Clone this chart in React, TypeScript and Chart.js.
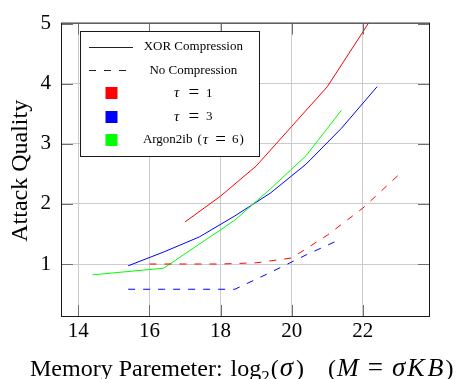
import { useEffect, useRef } from "react";
import { Chart, registerables } from "chart.js";

Chart.register(...registerables);

const FONT = '"Liberation Serif", "DejaVu Serif", "Times New Roman", serif';

// Axis ticks and ranges
const X_TICKS = [14, 16, 18, 20, 22];
const Y_TICKS = [1, 2, 3, 4, 5];
const X_MIN = 13.54;
const X_MAX = 23.86;
const Y_MIN = 0.135;
const Y_MAX = 5;

// XOR Compression (solid)
const RED_XOR_X = [17, 18, 19, 20, 21, 22, 23];
const RED_XOR_Y = [1.7, 2.13, 2.63, 3.29, 3.95, 4.86, 5.8];
const BLUE_XOR_X = [15.4, 16.4, 17.4, 18.4, 19.4, 20.4, 21.4, 22.4];
const BLUE_XOR_Y = [0.97, 1.2, 1.45, 1.8, 2.18, 2.66, 3.26, 3.95];
const GREEN_XOR_X = [14.4, 16.4, 18.4, 19.4, 20.4, 21.4];
const GREEN_XOR_Y = [0.82, 0.93, 1.73, 2.25, 2.8, 3.56];

// No Compression (dashed)
const RED_NC_X = [16, 17, 18, 19, 20, 21, 22, 23];
const RED_NC_Y = [1.0, 1.0, 1.0, 1.02, 1.1, 1.48, 1.93, 2.48];
const BLUE_NC_X = [15.4, 16.4, 17.4, 18.4, 19.4, 20.4, 21.4];
const BLUE_NC_Y = [0.58, 0.58, 0.58, 0.58, 0.86, 1.15, 1.42];

const RED = "#ff0000";
const BLUE = "#0000ff";
const GREEN = "#00ff00";
const DASH = [7, 8];

const pts = (xs: number[], ys: number[]) => xs.map((x, i) => ({ x, y: ys[i] }));

type Seg = { t: string; it?: boolean; size?: number; dy?: number; pad?: number };

function segsWidth(ctx: CanvasRenderingContext2D, segs: Seg[], size: number) {
  let w = 0;
  for (const s of segs) {
    ctx.font = `${s.it ? "italic " : ""}${s.size ?? size}px ${FONT}`;
    w += ctx.measureText(s.t).width + (s.pad ?? 0);
  }
  return w;
}

function drawSegsLeft(ctx: CanvasRenderingContext2D, segs: Seg[], x0: number, y: number, size: number) {
  let x = x0;
  ctx.textAlign = "left";
  for (const s of segs) {
    ctx.font = `${s.it ? "italic " : ""}${s.size ?? size}px ${FONT}`;
    ctx.fillText(s.t, x, y + (s.dy ?? 0));
    x += ctx.measureText(s.t).width + (s.pad ?? 0);
  }
}

function drawSegsCenter(ctx: CanvasRenderingContext2D, segs: Seg[], cx: number, y: number, size: number) {
  const w = segsWidth(ctx, segs, size);
  drawSegsLeft(ctx, segs, cx - w / 2, y, size);
}

const decor = {
  id: "decor",
  afterDraw(chart: any) {
    const { ctx, chartArea: a, scales } = chart;
    const xs = scales.x;
    const ys = scales.y;
    ctx.save();
    // inner tick marks
    ctx.strokeStyle = "#707070";
    ctx.lineWidth = 1;
    ctx.setLineDash([]);
    ctx.beginPath();
    for (const v of X_TICKS) {
      const px = Math.round(xs.getPixelForValue(v)) + 0.5;
      ctx.moveTo(px, a.bottom);
      ctx.lineTo(px, a.bottom - 11);
      ctx.moveTo(px, a.top);
      ctx.lineTo(px, a.top + 11);
    }
    for (const v of Y_TICKS) {
      const py = Math.round(ys.getPixelForValue(v)) + 0.5;
      ctx.moveTo(a.left, py);
      ctx.lineTo(a.left + 11, py);
      ctx.moveTo(a.right, py);
      ctx.lineTo(a.right - 11, py);
    }
    ctx.stroke();
    // frame
    ctx.strokeStyle = "#1a1a1a";
    ctx.strokeRect(a.left - 0.5, a.top - 0.5, a.right - a.left + 1, a.bottom - a.top + 1);

    // axis titles
    ctx.fillStyle = "#000";
    ctx.save();
    ctx.translate(21, (a.top + a.bottom) / 2 + 1);
    ctx.rotate(-Math.PI / 2);
    ctx.textAlign = "center";
    ctx.textBaseline = "middle";
    ctx.font = `24px ${FONT}`;
    ctx.fillText("Attack Quality", 0, 0);
    ctx.restore();

    ctx.textBaseline = "alphabetic";
    drawSegsLeft(
      ctx,
      [
        { t: "Memory Paremeter: ", pad: 2 },
        { t: "log" },
        { t: "2", size: 17, dy: 6, pad: 1 },
        { t: "(", pad: 1 },
        { t: "σ", it: true, size: 27, pad: 3 },
        { t: ")", pad: 24 },
        { t: "(", pad: 1 },
        { t: "M", it: true, size: 26, pad: 9 },
        { t: "=", size: 27, pad: 9 },
        { t: "σ", it: true, size: 27, pad: 2 },
        { t: "K", it: true, size: 26, pad: 3 },
        { t: "B", it: true, size: 26, pad: 2 },
        { t: ")" },
      ],
      30,
      376,
      24
    );

    // legend
    const L = { x: 80.5, y: 31.5, w: 179, h: 125 };
    ctx.fillStyle = "#fff";
    ctx.fillRect(L.x, L.y, L.w, L.h);
    ctx.strokeStyle = "#1a1a1a";
    ctx.lineWidth = 1;
    ctx.strokeRect(L.x, L.y, L.w, L.h);
    const rowY = (i: number) => L.y + 15.5 + i * 23.2;
    const textX = 193.3;
    // solid sample
    ctx.strokeStyle = "#222";
    ctx.beginPath();
    ctx.moveTo(89, Math.round(rowY(0)) + 0.5);
    ctx.lineTo(133, Math.round(rowY(0)) + 0.5);
    ctx.stroke();
    // dashed sample
    ctx.setLineDash(DASH);
    ctx.beginPath();
    ctx.moveTo(89, Math.round(rowY(1)) + 0.5);
    ctx.lineTo(130, Math.round(rowY(1)) + 0.5);
    ctx.stroke();
    ctx.setLineDash([]);
    // squares
    [RED, BLUE, GREEN].forEach((c, i) => {
      ctx.fillStyle = c;
      ctx.fillRect(105.5, Math.round(rowY(i + 2)) - 6, 12, 12);
    });
    ctx.fillStyle = "#000";
    ctx.textBaseline = "middle";
    const lf = 13;
    drawSegsCenter(ctx, [{ t: "XOR Compression" }], textX, rowY(0), lf);
    drawSegsCenter(ctx, [{ t: "No Compression" }], textX, rowY(1), lf);
    const eq: Seg = { t: "=", size: 19, pad: 7 };
    drawSegsCenter(ctx, [{ t: "τ", it: true, size: 15, pad: 9 }, eq, { t: "1" }], textX, rowY(2), lf);
    drawSegsCenter(ctx, [{ t: "τ", it: true, size: 15, pad: 9 }, eq, { t: "3" }], textX, rowY(3), lf);
    drawSegsCenter(
      ctx,
      [
        { t: "Argon2ib", pad: 5 },
        { t: "(", pad: 1 },
        { t: "τ", it: true, size: 15, pad: 7 },
        { t: "=", size: 19, pad: 6 },
        { t: "6", pad: 1 },
        { t: ")" },
      ],
      textX,
      rowY(4),
      lf
    );
    ctx.restore();
  },
};

export default function App() {
  const ref = useRef<HTMLCanvasElement | null>(null);
  useEffect(() => {
    if (!ref.current) return;
    const line = (xs: number[], ys: number[], color: string, dashed: boolean) => ({
      data: pts(xs, ys),
      borderColor: color,
      backgroundColor: color,
      borderWidth: 1,
      borderDash: dashed ? DASH : [],
      pointRadius: 0,
      tension: 0,
      fill: false,
    });
    const chart = new Chart(ref.current, {
      type: "line",
      data: {
        datasets: [
          line(RED_NC_X, RED_NC_Y, RED, true),
          line(BLUE_NC_X, BLUE_NC_Y, BLUE, true),
          line(GREEN_XOR_X, GREEN_XOR_Y, GREEN, false),
          line(BLUE_XOR_X, BLUE_XOR_Y, BLUE, false),
          line(RED_XOR_X, RED_XOR_Y, RED, false),
        ] as any,
      },
      options: {
        animation: false,
        responsive: false,
        devicePixelRatio: 1,
        layout: { padding: { left: 0, top: 15, right: 34, bottom: 0 } },
        plugins: { legend: { display: false }, tooltip: { enabled: false } },
        scales: {
          x: {
            type: "linear",
            min: X_MIN,
            max: X_MAX,
            afterBuildTicks: (s: any) => {
              s.ticks = X_TICKS.map((v) => ({ value: v }));
            },
            afterFit: (s: any) => {
              s.height = 63;
            },
            grid: { color: "#cccccc", drawTicks: false, lineWidth: 1 },
            border: { display: false },
            ticks: {
              padding: 3,
              color: "#000",
              font: { size: 21, family: FONT },
              maxRotation: 0,
              autoSkip: false,
            },
          },
          y: {
            type: "linear",
            min: Y_MIN,
            max: Y_MAX,
            afterBuildTicks: (s: any) => {
              s.ticks = Y_TICKS.map((v) => ({ value: v }));
            },
            afterFit: (s: any) => {
              s.width = 62;
            },
            grid: { color: "#cccccc", drawTicks: false, lineWidth: 1 },
            border: { display: false },
            ticks: {
              padding: 11,
              color: "#000",
              font: { size: 21, family: FONT },
              autoSkip: false,
            },
          },
        },
      } as any,
      plugins: [decor],
    });
    return () => chart.destroy();
  }, []);
  return (
    <div style={{ position: "fixed", left: 0, top: 0, width: 463, height: 379, background: "#fff" }}>
      <canvas ref={ref} width={463} height={379} style={{ display: "block", width: 463, height: 379 }} />
    </div>
  );
}
